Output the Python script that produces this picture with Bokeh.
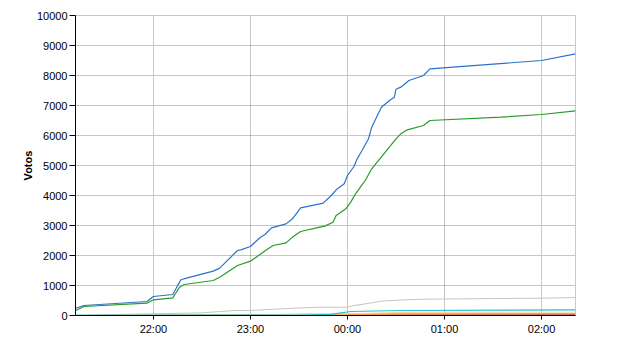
import pandas as pd
from bokeh.plotting import figure
from bokeh.models import FixedTicker, DatetimeTickFormatter, Grid, Range1d
from bokeh.embed import file_html
from bokeh.resources import INLINE

BASE = "2011-05-22"

# x range limits (clock times)
x_start = "21:11:50"
x_end = "02:21:00"

# tick labels
x_tick_labels = ["22:00", "23:00", "00:00", "01:00", "02:00"]
y_ticks = [0, 1000, 2000, 3000, 4000, 5000, 6000, 7000, 8000, 9000, 10000]

# series 1 (blue)
blue_t = ["21:12", "21:17", "21:56", "22:00", "22:12", "22:14", "22:16", "22:17", "22:21",
          "22:37", "22:41",
          "22:52", "22:54", "23:00", "23:06", "23:09", "23:13", "23:22", "23:26", "23:31",
          "23:43", "23:45", "23:50", "23:53", "23:58", "00:00", "00:04", "00:06", "00:09",
          "00:13", "00:15", "00:19", "00:21", "00:26", "00:29", "00:30", "00:33", "00:38",
          "00:47", "00:51", "02:00", "02:21"]
blue_v = [243, 333, 467, 633, 700, 900, 1100, 1190, 1255,
          1478, 1578,
          2167, 2189, 2300, 2600, 2700, 2922, 3055, 3222, 3589,
          3722, 3744, 4000, 4190, 4390, 4667, 4967, 5222, 5500,
          5889, 6278, 6722, 6944, 7167, 7277, 7540, 7611, 7833,
          8000, 8222, 8500, 8722]

# series 2 (green)
green_t = ["21:12", "21:17", "21:56", "22:00", "22:12", "22:14", "22:16", "22:19", "22:37",
           "22:41",
           "22:52", "23:00", "23:10", "23:14", "23:22", "23:26", "23:31", "23:43", "23:46",
           "23:51", "23:53", "23:59", "00:02", "00:05", "00:08", "00:11", "00:15", "00:20",
           "00:25", "00:30", "00:33", "00:37", "00:47", "00:51", "01:35", "02:00", "02:21"]
green_v = [167, 300, 411, 522, 589, 760, 930, 1033, 1167,
           1278,
           1667, 1811, 2189, 2333, 2422, 2611, 2800, 2944, 2978,
           3111, 3333, 3555, 3778, 4056, 4278, 4500, 4889, 5222,
           5555, 5889, 6055, 6189, 6333, 6500, 6611, 6700, 6820]

# series 3 (gray)
gray_t = ["21:12", "22:00", "22:30", "22:50", "23:00", "23:27", "23:43", "00:00", "00:04",
          "00:14", "00:21", "00:35", "00:48", "02:00", "02:21"]
gray_v = [10, 55, 89, 167, 167, 244, 278, 278, 333, 411, 478, 522, 544, 578, 600]

# series 4 (cyan)
cyan_t = ["21:12", "23:30", "23:50", "23:56", "00:02", "00:33", "02:21"]
cyan_v = [5, 15, 40, 89, 133, 167, 189]

# series 5 (light green)
lgreen_t = ["21:12", "22:00", "23:00", "23:50", "00:30", "02:21"]
lgreen_v = [0, 10, 25, 55, 58, 62]

# series 6 (peach)
peach_t = ["21:12", "23:00", "23:55", "00:30", "02:21"]
peach_v = [0, 15, 50, 100, 111]

# series 7 (orange)
orange_t = ["21:12", "22:30", "23:55", "00:20", "02:21"]
orange_v = [0, 15, 30, 45, 55]

# series 8 (dark red)
red_t = ["21:12", "23:50", "00:30", "02:21"]
red_v = [0, 5, 20, 25]


def to_dt(s):
    t = pd.Timestamp(f"{BASE} {s}")
    if t.hour < 12:
        t = t + pd.Timedelta(days=1)
    return t


def conv(lst):
    return [to_dt(s) for s in lst]


def ms(ts):
    return ts.value / 1e6


FONT = "Liberation Sans"

p = figure(width=640, height=350, output_backend="svg", toolbar_location=None,
           x_axis_type="datetime",
           x_range=Range1d(to_dt(x_start), to_dt(x_end)),
           y_range=Range1d(0, 10000),
           min_border_left=75, min_border_right=65, min_border_top=15, min_border_bottom=35)
p.background_fill_color = "white"
p.border_fill_color = "white"
p.outline_line_color = "#c8c8c8"

x_tick_ms = [ms(to_dt(s)) for s in x_tick_labels]
p.xaxis.ticker = FixedTicker(ticks=x_tick_ms)
p.xaxis.formatter = DatetimeTickFormatter(hours="%H:%M", minutes="%H:%M", days="%H:%M",
                                          hourmin="%H:%M")
p.yaxis.ticker = FixedTicker(ticks=y_ticks)
p.yaxis.axis_label = "Votos"

for ax in (p.xaxis[0], p.yaxis[0]):
    ax.axis_line_color = "black"
    ax.axis_line_width = 1
    ax.major_tick_line_color = "black"
    ax.major_tick_in = 0
    ax.minor_tick_line_color = None
    ax.major_label_text_font = FONT
    ax.major_label_text_font_size = "11px"
    ax.major_label_text_color = "black"

p.yaxis.major_tick_out = 6
p.yaxis.major_label_standoff = 2
p.yaxis.axis_label_text_font = FONT
p.yaxis.axis_label_text_font_size = "11px"
p.yaxis.axis_label_text_font_style = "bold"
p.yaxis.axis_label_text_color = "black"
p.yaxis.axis_label_standoff = 0
p.xaxis.major_tick_out = 4
p.xaxis.major_label_standoff = 3

# grids
p.xgrid.visible = False
p.ygrid.grid_line_color = "#8a8a8a"
p.ygrid.grid_line_dash = "1 1"
p.ygrid.grid_line_width = 1

solid_idx = [0, 2, 4]
dotted_idx = [1, 3]
p.add_layout(Grid(dimension=0, ticker=FixedTicker(ticks=[x_tick_ms[i] for i in solid_idx]),
                  grid_line_color="#c8c8c8", grid_line_width=1))
p.add_layout(Grid(dimension=0, ticker=FixedTicker(ticks=[x_tick_ms[i] for i in dotted_idx]),
                  grid_line_color="#8a8a8a", grid_line_dash="1 1", grid_line_width=1))

series = [
    (gray_t, gray_v, "#c4c4c4", 1),
    (lgreen_t, lgreen_v, "#8fd08f", 1),
    (red_t, red_v, "#a0204a", 1),
    (orange_t, orange_v, "#ff9a30", 1),
    (peach_t, peach_v, "#ffd49a", 1),
    (cyan_t, cyan_v, "#22c4cc", 1.2),
    (green_t, green_v, "#2a9a2a", 1.2),
    (blue_t, blue_v, "#2a72cc", 1.2),
]
for t, v, c, w in series:
    p.line(conv(t), v, line_color=c, line_width=w)

open("out.html", "w").write(file_html(p, INLINE))
